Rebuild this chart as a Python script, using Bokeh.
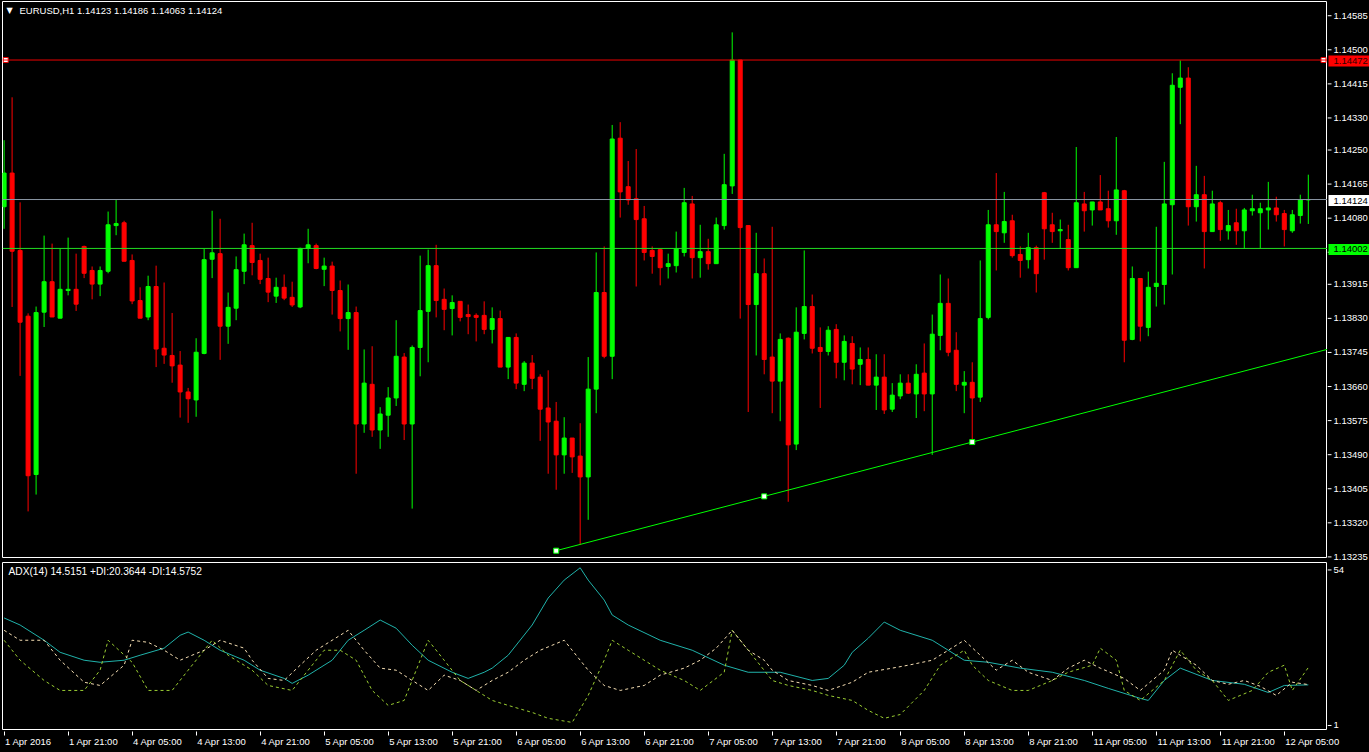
from bokeh.plotting import figure
from bokeh.models import LinearAxis, FixedTicker, Range1d, Label, Span
from bokeh.layouts import column, row
from bokeh.embed import file_html
from bokeh.resources import INLINE
from bokeh.core.properties import value

# ---------------- data (prices in points, 1e-5) ----------------
opens = [114106,114190,113997,113833,113438,113843,113919,113828,113897,113900,
         114007,113947,113913,113945,114059,114066,113972,113872,113831,113907,
         113753,113735,113711,113644,113624,113740,113975,113989,113808,113853,
         113945,114009,113972,113927,113883,113905,113880,113856,114002,114009,
         113950,113958,113897,113827,113842,113564,113663,113549,113586,113629,
         113731,113564,113755,113845,113959,113875,113852,113870,113837,113835,
         113835,113800,113827,113706,113780,113663,113716,113681,113604,113571,
         113487,113529,113484,113432,113651,113892,113733,114277,114156,114126,
         114076,113997,113999,113957,113959,113992,114113,113979,113994,113964,
         114059,114158,114472,114059,113862,113939,113731,113671,113778,113514,
         113790,113857,113755,113745,113800,113718,113765,113713,113725,113661,
         113681,113601,113634,113666,113639,113691,113639,113785,113865,113748,
         113661,113668,113631,113830,114061,114041,114071,113987,113974,114004,
         114141,114061,114046,114024,113954,114113,114098,114118,114101,114071,
         114146,113775,113927,113805,113907,113912,114111,114404,114427,114106,
         114136,114044,114116,114046,114066,114046,114096,114091,114098,114103,
         114089,114046,114084,114123]
highs = [114272,114379,114117,113840,113857,114034,114014,114001,114029,113989,
         114009,113957,113957,114094,114124,114071,113987,113905,113934,113959,
         113917,113841,113746,113654,113778,114001,114096,114076,113892,113982,
         114039,114066,113989,113979,113929,113937,113919,114004,114051,114014,
         113979,113969,113922,113912,113857,113750,113758,113606,113656,113823,
         113741,113760,113984,113999,114011,113902,113885,113870,113862,113840,
         113870,113855,113847,113780,113790,113721,113736,113688,113698,113619,
         113581,113529,113566,113731,113992,114007,114310,114317,114220,114250,
         114108,114007,114001,113989,114044,114153,114133,114061,114026,114079,
         114238,114541,114472,114059,114041,113977,114056,113790,113780,113855,
         113997,113887,113805,113808,113813,113785,113783,113755,113755,113738,
         113738,113666,113688,113688,113713,113765,113837,113937,113927,113793,
         113696,113718,113972,114098,114190,114143,114086,114007,114041,114009,
         114143,114091,114074,114061,114255,114143,114118,114185,114146,114280,
         114148,113957,113927,113944,114056,114218,114439,114471,114454,114208,
         114183,114146,114121,114098,114101,114103,114136,114116,114168,114131,
         114098,114098,114136,114186]
lows = [114051,113856,113684,113346,113388,113806,113831,113828,113885,113846,
        113928,113875,113883,113940,114035,113970,113863,113828,113823,113706,
        113714,113667,113580,113567,113582,113738,113928,113724,113764,113823,
        113913,113935,113913,113868,113866,113873,113856,113853,113965,113950,
        113908,113837,113795,113749,113440,113542,113532,113502,113532,113609,
        113524,113353,113683,113718,113830,113798,113785,113820,113788,113770,
        113788,113765,113706,113676,113651,113646,113651,113522,113440,113400,
        113440,113442,113263,113325,113591,113728,113676,114079,114111,113907,
        113972,113939,113910,113927,113942,113982,113927,113929,113949,113964,
        114049,114138,113827,113594,113735,113688,113591,113571,113370,113499,
        113775,113740,113604,113735,113678,113673,113663,113661,113661,113599,
        113589,113594,113626,113639,113579,113596,113487,113748,113733,113646,
        113591,113517,113619,113825,113947,114016,113979,113929,113952,113892,
        113974,114016,114001,113947,113954,114044,114059,114098,114054,114036,
        113718,113773,113770,113783,113857,113862,113937,114312,114059,114069,
        113952,114044,114021,114024,114011,114001,114084,114001,114049,114069,
        114007,114041,114064,114063]
closes = [114190,113995,113818,113435,113842,113919,113831,113900,113900,113863,
          113940,113913,113947,114061,114064,113970,113871,113828,113907,113751,
          113736,113709,113644,113627,113743,113974,113991,113808,113855,113949,
          114011,113967,113925,113893,113905,113878,113861,114002,114011,113952,
          113958,113897,113827,113842,113564,113666,113549,113589,113629,113733,
          113564,113755,113847,113959,113872,113850,113867,113830,113832,113830,
          113800,113827,113706,113780,113666,113716,113678,113601,113569,113487,
          113529,113482,113432,113651,113892,113733,114275,114143,114123,114074,
          113992,113982,113954,113964,114001,114116,113979,113994,113964,114061,
          114161,114472,114054,113862,113939,113725,113671,113775,113512,113793,
          113857,113753,113745,113798,113718,113770,113701,113725,113661,113681,
          113599,113636,113666,113641,113688,113639,113788,113865,113743,113663,
          113668,113629,113827,114061,114044,114069,113984,113972,114004,113939,
          114051,114044,114049,113954,114116,114096,114118,114098,114071,114148,
          113773,113927,113808,113905,113915,114113,114409,114427,114106,114136,
          114044,114113,114049,114059,114046,114098,114101,114101,114103,114086,
          114049,114086,114123,114124]

# ADX(14) readings: (bar, value)
adx_bars = [0,2,5,7,10,12,15,17,20,22,23,25,27,30,32,35,36,38,41,43,45,47,49,51,53,56,58,60,61,63,66,68,70,72,73,75,76,78,82,86,90,93,97,101,103,105,106,108,110,112,116,120,123,127,131,135,138,142,143,145,147,151,155,158,160,163]
adx_vals = [37.3,34.9,29.7,25.6,22.9,22.2,22.9,24.6,27,31.4,32.5,29.7,26.3,22.9,19.5,16.7,15,17.8,22.9,29.7,33.1,36.6,33.8,28,22.9,18.8,16.7,18.8,20.2,24.6,34.9,44.1,50.2,54.4,50.2,43.4,38.3,34.9,29.7,26.3,21.2,18.8,18.8,16,16.7,21.2,25.6,30.4,35.9,33.1,29.7,22.9,22.2,20.2,18.8,16,13.3,9.9,9.2,16,20.2,16,14.7,11.9,14.3,14.5]
pdi_bars = [0,2,5,7,10,12,13,16,18,21,23,26,28,31,33,36,38,40,42,44,46,48,50,52,53,55,57,59,61,63,66,68,71,73,75,76,78,80,82,85,87,90,91,93,96,98,101,103,106,108,110,112,115,117,120,121,123,126,128,131,133,136,137,139,140,142,145,147,149,151,153,156,158,160,161,163]
pdi_vals = [29.7,22.9,16,12.6,12.6,19.5,29.7,22.2,12.6,12.6,19.5,29.7,24.6,19.5,14.3,12.6,19.5,26.3,26.3,22.9,12.6,7.5,9.2,22.9,29.7,22.9,16,12.6,9.2,7.5,5.1,3.1,1.7,10.9,22.9,29.7,26.3,22.9,19.5,16,12.6,18.8,33.1,26.3,16,14.3,12.6,10.9,9.2,5.8,3.1,4.4,12.6,21.2,26.3,21.2,16,12.6,12.6,16,18.8,21.2,27,22.9,12.6,9.2,16,26.3,19.5,16,9.2,12.6,18.8,21.2,12.6,20.4]
mdi_bars = [0,2,5,7,10,12,15,16,18,20,22,25,27,30,31,33,35,37,39,41,43,45,47,49,51,53,55,57,59,61,63,65,67,70,71,73,75,77,80,82,85,87,89,91,93,95,96,98,101,103,106,108,111,113,116,118,120,122,124,126,128,131,133,135,137,140,142,145,146,149,151,153,155,157,159,161,163]
mdi_vals = [33.1,29.7,29.7,22.9,15.4,14.3,21.2,29.7,29,26.3,22.9,26.3,29.7,27,22.9,16.7,16,21.2,26.3,29.7,33.1,26.3,20.2,19.5,16,12.6,17.8,16,12.6,16,18.8,22.9,26.3,29.7,26.3,19.5,14.3,12.6,14.3,17.8,20.2,22.9,27,33.1,26.3,22.9,19.5,16,14.3,12.6,15.4,18.8,20.2,21.2,22.9,26.3,29.7,24.6,19.5,22.9,18.8,16,20.2,22.9,20.2,16.7,12.6,19.5,26.3,21.2,16,14.7,16,14,10.9,15.4,14.6]

time_tick_bars = [0,8,16,24,32,40,48,56,64,72,80,88,96,104,112,120,128,136,144,152,160]
time_tick_labels = ["1 Apr 2016","1 Apr 21:00","4 Apr 05:00","4 Apr 13:00","4 Apr 21:00",
                    "5 Apr 05:00","5 Apr 13:00","5 Apr 21:00","6 Apr 05:00","6 Apr 13:00",
                    "6 Apr 21:00","7 Apr 05:00","7 Apr 13:00","7 Apr 21:00","8 Apr 05:00",
                    "8 Apr 13:00","8 Apr 21:00","11 Apr 05:00","11 Apr 13:00","11 Apr 21:00",
                    "12 Apr 05:00"]
price_ticks = [1.14585,1.14500,1.14415,1.14330,1.14250,1.14165,1.14080,1.13995,1.13915,
               1.13830,1.13745,1.13660,1.13575,1.13490,1.13405,1.13320,1.13235]
adx_ticks = [54, 1]
hline_red = 1.14472
bid_price = 1.14124
hline_green = 1.14002
trend_bars = [69, 121]
trend_prices = [1.13248, 1.13519]

title_text = "EURUSD,H1  1.14123 1.14186 1.14063 1.14124"
adx_text = "ADX(14) 14.5151 +DI:20.3644 -DI:14.5752"

# ---------------- derived ----------------
n = len(opens)
bars = list(range(n))
O = [v / 1e5 for v in opens]
H = [v / 1e5 for v in highs]
L = [v / 1e5 for v in lows]
C = [v / 1e5 for v in closes]
BULL, BEAR = "#00ff00", "#ff0000"
cols = [BULL if c >= o else BEAR for o, c in zip(O, C)]
tops = [max(o, c) for o, c in zip(O, C)]
bots = [min(o, c) for o, c in zip(O, C)]

XR = (-0.2, 165.4)
YR1 = (1.13231, 1.14618)
YR2 = (-1.05, 56.2)
FONT = "Liberation Sans"
FS = "9.5px"
FW = 1325
FH1 = 556
FH2 = 168
AXW = 42
B1_TOP, B1_BOT = 1, 4
B2_TOP, B2_BOT = 1, 0
PX_PER_BAR = FW / (XR[1] - XR[0])

common = dict(output_backend="svg", toolbar_location=None,
              background_fill_color="black", border_fill_color="black",
              x_axis_location=None, y_axis_location=None)

# ---------------- main price panel ----------------
p = figure(frame_width=FW, frame_height=FH1,
           x_range=Range1d(*XR), y_range=Range1d(*YR1),
           min_border_left=2, min_border_right=0, min_border_top=B1_TOP, min_border_bottom=B1_BOT,
           outline_line_color="white", outline_line_width=1, **common)
p.grid.visible = False

p.add_layout(Span(location=hline_green, dimension="width", line_color="#22dd22", line_width=1))
p.add_layout(Span(location=bid_price, dimension="width", line_color="#8a96a3", line_width=1))
p.add_layout(Span(location=hline_red, dimension="width", line_color="#ee0000", line_width=1))

p.segment(x0=bars, y0=L, x1=bars, y1=H, line_color=cols, line_width=1)
p.vbar(x=bars, width=0.5, top=tops, bottom=bots, fill_color=cols, line_color=cols, line_width=1)

slope = (trend_prices[1] - trend_prices[0]) / (trend_bars[1] - trend_bars[0])
x_end = 200
p.line([trend_bars[0], x_end], [trend_prices[0], trend_prices[0] + slope * (x_end - trend_bars[0])],
       line_color="#00ff00", line_width=1)
mid_bar = (trend_bars[0] + trend_bars[1]) / 2
p.scatter([trend_bars[0], mid_bar, trend_bars[1]],
          [trend_prices[0], trend_prices[0] + slope * (mid_bar - trend_bars[0]), trend_prices[1]],
          marker="square", size=5, fill_color="white", line_color="#00ff00", line_width=1)
p.scatter([0.2, 164.9], [hline_red, hline_red], marker="square", size=5,
          fill_color="white", line_color="#ee0000", line_width=1)

p.add_layout(Label(x=4, y=FH1 - 9, x_units="screen", y_units="screen", text="\u25bc",
                   text_font="DejaVu Sans", text_font_size="8px", text_color="white",
                   text_baseline="middle"))
p.add_layout(Label(x=17, y=FH1 - 9, x_units="screen", y_units="screen", text=title_text,
                   text_font=FONT, text_font_size=FS, text_color="white",
                   text_baseline="middle"))


# ---------------- value scales (right strips, same scale as their panels) ----------------
def scale_strip(yr, fh, btop, bbot, ticks, labels, tags):
    per_px = (yr[1] - yr[0]) / fh
    s = figure(frame_width=AXW, frame_height=fh + btop + bbot,
               x_range=Range1d(0, AXW),
               y_range=Range1d(yr[0] - bbot * per_px, yr[1] + btop * per_px),
               min_border_left=0, min_border_right=0, min_border_top=0, min_border_bottom=0,
               outline_line_color=None, **common)
    s.grid.visible = False
    s.segment(x0=[0] * len(ticks), y0=ticks, x1=[4] * len(ticks), y1=ticks,
              line_color="white", line_width=1)
    s.text(x=[6] * len(ticks), y=ticks, text=labels, text_color="white",
           text_font=value(FONT), text_font_size=FS, text_baseline="middle", text_align="left")
    for val, bg, fg in tags:
        s.rect(x=[AXW / 2 + 0.5], y=[val], width=AXW - 1, height=11, height_units="screen",
               fill_color=bg, line_color=None)
        s.text(x=[6], y=[val], text=["%.5f" % val], text_color=fg,
               text_font=value(FONT), text_font_size=FS, text_baseline="middle",
               text_align="left")
    return s


r1 = scale_strip(YR1, FH1, B1_TOP, B1_BOT, price_ticks, ["%.5f" % t for t in price_ticks],
                 [(hline_red, "#ff0000", "#300000"), (bid_price, "white", "black"),
                  (hline_green, "#00ff00", "black")])

# ---------------- ADX panel ----------------
q = figure(frame_width=FW, frame_height=FH2,
           x_range=p.x_range, y_range=Range1d(*YR2),
           min_border_left=2, min_border_right=0, min_border_top=B2_TOP, min_border_bottom=B2_BOT,
           outline_line_color="white", outline_line_width=1, **common)
q.grid.visible = False

q.line(adx_bars, adx_vals, line_color="#20b2aa", line_width=1)
q.line(pdi_bars, pdi_vals, line_color="#9acd32", line_width=1, line_dash="3 3")
q.line(mdi_bars, mdi_vals, line_color="#f5deb3", line_width=1, line_dash="3 3")

q.add_layout(Label(x=6, y=FH2 - 9, x_units="screen", y_units="screen", text=adx_text,
                   text_font=FONT, text_font_size="10.2px", text_color="white",
                   text_baseline="middle"))

r2 = scale_strip(YR2, FH2, B2_TOP, B2_BOT, adx_ticks, [str(t) for t in adx_ticks], [])

# ---------------- time scale (full width strip under both) ----------------
XB = (XR[0], XR[1] + AXW / PX_PER_BAR)
xb = figure(frame_width=FW + AXW, frame_height=1, x_range=Range1d(*XB), y_range=Range1d(0, 1),
            min_border_left=2, min_border_right=0, min_border_top=0, min_border_bottom=21,
            outline_line_color=None, **common)
xb.grid.visible = False


def style_axis(ax, tick_out=4):
    ax.axis_line_color = None
    ax.major_tick_line_color = "white"
    ax.major_tick_out = tick_out
    ax.major_tick_in = 0
    ax.minor_tick_line_color = None
    ax.major_label_text_color = "white"
    ax.major_label_text_font = FONT
    ax.major_label_text_font_size = FS
    ax.major_label_standoff = 2


xticks_ax = LinearAxis(ticker=FixedTicker(ticks=time_tick_bars),
                       major_label_overrides={b: "" for b in time_tick_bars})
style_axis(xticks_ax)
xticks_ax.major_label_text_font_size = "0px"
xticks_ax.major_label_standoff = 0
xb.add_layout(xticks_ax, "below")

CHAR_EM = {" ": 0.278, ":": 0.278, "A": 0.667, "p": 0.556, "r": 0.333}
def text_w(s, px=9.5):
    return sum(CHAR_EM.get(ch, 0.556) for ch in s) * px

lab_pos = [b + (text_w(t) / 2 + 1) / PX_PER_BAR for b, t in zip(time_tick_bars, time_tick_labels)]
xlab_ax = LinearAxis(ticker=FixedTicker(ticks=lab_pos),
                     major_label_overrides={pp: t for pp, t in zip(lab_pos, time_tick_labels)})
style_axis(xlab_ax, tick_out=0)
xlab_ax.major_tick_line_color = None
xlab_ax.major_label_standoff = 0
xb.add_layout(xlab_ax, "below")

layout = column(row(p, r1, spacing=0), row(q, r2, spacing=0), xb, spacing=0,
                styles={"background-color": "black"})
open("out.html", "w").write(file_html(layout, INLINE))
